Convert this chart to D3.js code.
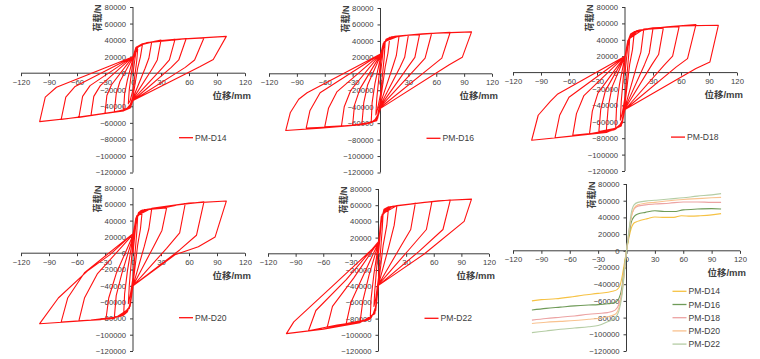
<!DOCTYPE html>
<html><head><meta charset="utf-8">
<script src="https://cdn.jsdelivr.net/npm/d3@7/dist/d3.min.js"></script>
<style>
body{margin:0;background:#fff;}
svg{display:block;}
text{font-family:"Liberation Sans",Arial,"Noto Sans CJK SC",sans-serif;fill:#404040;}
</style>
</head><body>
<svg id="chart" width="760" height="359"></svg>
<script>
// ---------- data ----------
const xTickValues = [-120, -90, -60, -30, 0, 30, 60, 90, 120];
const yTickValues = [80000, 60000, 40000, 20000, 0, -20000, -40000, -60000, -80000, -100000, -120000];
const xTitle = "位移/mm";
const yTitle = "荷载/N";
const specimenNames = ["PM-D14", "PM-D16", "PM-D18", "PM-D20", "PM-D22"];
const skeletonColors = ["#f6c244", "#6f9b58", "#eca3a3", "#f9c28f", "#b5cda5"];

const hystD14 = [[0,0],[3,25000],[5,29000],
[4,15000],[0,-20000],[-3,-33000],[-5,-37000],
[-4,-20000],[0,15000],[3,28000],[6,32000],[10,34000],
[8,20000],[5,6000],[0,-28000],[-3,-38000],[-6,-42000],[-10,-44000],
[-9,-25000],[-6,-8000],[0,18000],[3,29000],[8,34000],[20,37500],
[17,18000],[13,6000],[0,-30000],[-3,-40000],[-8,-44000],[-20,-46500],
[-18,-25000],[-14,-10000],[0,19000],[3,30000],[10,35500],[30,40000],
[26,16000],[21,6000],[0,-31000],[-3,-41000],[-10,-45000],[-30,-48500],
[-28,-27000],[-23,-14000],[0,20000],[3,31000],[10,35500],[25,39000],[45,41000],
[39,16000],[32,7000],[0,-32000],[-3,-41500],[-10,-45000],[-25,-47500],[-45,-51000],
[-42,-28000],[-35,-15000],[0,20000],[3,31000],[10,35500],[30,39500],[57,42000],
[49,16000],[41,7000],[0,-33000],[-3,-42000],[-10,-45500],[-30,-48500],[-58,-53500],
[-54,-28000],[-46,-15000],[0,20000],[4,32000],[15,37000],[40,40500],[76,42500],
[66,16000],[56,7000],[0,-33000],[-4,-42000],[-15,-46000],[-45,-51000],[-77,-56000],
[-72,-29000],[-62,-16000],[0,20000],[4,32000],[15,37000],[55,41500],[100,44500],
[86,16500],[72,8000],[0,-33000],[-4,-42500],[-20,-47000],[-60,-53500],[-100,-58500],
[-94,-29000],[-82,-17000],[0,20000]];

const hystD16 = [[0,0],[3,30000],[5,38000],
[4,20000],[0,-25000],[-3,-42000],[-5,-50000],
[-4,-30000],[0,15000],[3,33000],[6,42000],[10,44000],
[8,25000],[5,8000],[0,-33000],[-3,-50000],[-6,-56000],[-10,-59000],
[-9,-35000],[-6,-12000],[0,20000],[3,35000],[8,43000],[20,46000],
[17,22000],[13,8000],[0,-36000],[-3,-52000],[-8,-58000],[-20,-61000],
[-18,-35000],[-14,-14000],[0,22000],[3,36000],[10,44000],[30,47000],
[26,20000],[21,8000],[0,-38000],[-3,-53000],[-10,-59000],[-30,-62500],
[-28,-38000],[-22,-18000],[0,23000],[3,37000],[10,44500],[25,46500],[42,47500],
[37,20000],[30,9000],[0,-39000],[-3,-54000],[-10,-59500],[-25,-62000],[-42,-63500],
[-39,-40000],[-32,-20000],[0,24000],[4,38000],[12,45000],[30,47000],[55,49000],
[48,19000],[40,9000],[0,-40000],[-4,-55000],[-12,-60000],[-35,-63000],[-60,-64500],
[-56,-42000],[-47,-22000],[0,24000],[4,38500],[15,45500],[45,48500],[75,50500],
[66,19000],[55,9000],[0,-41000],[-4,-56000],[-15,-61000],[-50,-64500],[-80,-66000],
[-76,-45000],[-65,-23000],[0,24000],[4,39000],[20,46000],[60,49500],[98,51000],
[88,20000],[74,11000],[0,-42000],[-4,-57000],[-20,-62000],[-65,-66000],[-102,-69000],
[-97,-47000],[-88,-31000],[-79,-23000],[0,24000]];

const hystD18 = [[0,0],[3,32000],[5,42000],
[4,22000],[0,-30000],[-3,-50000],[-5,-58000],
[-4,-35000],[0,18000],[3,38000],[6,47000],[10,50000],
[8,28000],[5,10000],[0,-38000],[-3,-58000],[-6,-65000],[-10,-68000],
[-9,-40000],[-6,-15000],[0,20000],[3,38000],[8,48000],[20,52000],
[17,25000],[13,10000],[0,-42000],[-3,-60000],[-8,-67000],[-20,-71000],
[-18,-42000],[-14,-18000],[0,20000],[3,39000],[10,50000],[30,54000],
[26,24000],[21,10000],[0,-43000],[-3,-61000],[-10,-68000],[-28,-72000],
[-26,-45000],[-21,-22000],[0,20000],[3,39000],[10,50000],[25,53000],[41,54000],
[36,22000],[29,10000],[0,-44000],[-3,-62000],[-10,-69000],[-25,-72000],[-38,-74500],
[-35,-47000],[-29,-25000],[0,20000],[4,40000],[12,51000],[30,54500],[58,56000],
[51,20000],[42,9000],[0,-45000],[-4,-63000],[-12,-70000],[-35,-74000],[-56,-76500],
[-52,-50000],[-44,-28000],[0,20000],[4,40500],[15,52000],[45,56000],[76,58500],
[67,17000],[55,7000],[0,-45000],[-4,-64000],[-15,-71000],[-45,-76000],[-75,-79500],
[-70,-52000],[-60,-30000],[0,20000],[4,41000],[20,53000],[60,57000],[100,57700],
[91,13000],[76,5000],[0,-45000],[-4,-65000],[-20,-73000],[-60,-78000],[-100,-82500],
[-93,-52000],[-80,-35000],[-72,-26000],[0,20000]];

const hystD20 = [[0,0],[3,35000],[5,45000],
[4,25000],[0,-30000],[-3,-52000],[-5,-62000],
[-4,-40000],[0,15000],[3,40000],[6,50000],[10,53000],
[8,30000],[5,10000],[0,-38000],[-3,-62000],[-6,-72000],[-10,-76000],
[-9,-50000],[-6,-22000],[0,20000],[3,42000],[8,52000],[20,54000],
[17,30000],[12,8000],[0,-40000],[-3,-64000],[-8,-74000],[-20,-79000],
[-18,-52000],[-12,-25000],[0,20000],[3,43000],[10,53000],[36,55500],
[31,28000],[22,8000],[0,-40000],[-3,-65000],[-10,-76000],[-29,-81000],
[-26,-55000],[-18,-25000],[0,22000],[4,44000],[12,53500],[35,56000],[56,61000],
[50,25000],[36,6000],[0,-40000],[-4,-66000],[-12,-77000],[-35,-81500],[-58,-83000],
[-52,-55000],[-38,-25000],[0,23000],[4,45000],[15,54000],[45,59000],[76,63000],
[68,22000],[50,4000],[0,-40000],[-4,-67000],[-15,-78000],[-45,-82000],[-77,-84500],
[-70,-55000],[-52,-24000],[0,24000],[4,46000],[20,55000],[60,61500],[100,64000],
[88,20000],[70,8000],[45,-2000],[0,-40000],[-4,-68000],[-20,-80000],[-60,-83500],[-100,-86500],
[-80,-55000],[-49,-22000],[-25,-2000],[0,24000]];

const hystD22 = [[0,0],[3,38000],[5,50000],
[4,30000],[0,-30000],[-3,-55000],[-5,-65000],
[-4,-45000],[0,10000],[3,42000],[6,55000],[11,58000],
[9,35000],[5,10000],[0,-38000],[-3,-65000],[-6,-75000],[-9,-80000],
[-8,-55000],[-5,-25000],[0,12000],[3,45000],[8,56000],[20,59500],
[17,35000],[11,8000],[0,-38000],[-3,-68000],[-8,-79000],[-20,-84000],
[-17,-58000],[-10,-25000],[0,13000],[3,46000],[10,57500],[40,62500],
[35,30000],[22,5000],[0,-38000],[-3,-70000],[-10,-81000],[-35,-86000],
[-30,-60000],[-17,-28000],[0,14000],[4,47000],[12,58000],[35,61500],[58,64500],
[52,30000],[33,5000],[0,-38000],[-4,-72000],[-12,-82000],[-35,-86500],[-56,-92000],
[-50,-65000],[-27,-30000],[0,15000],[4,48000],[15,58500],[50,63500],[78,66500],
[70,30000],[44,3000],[0,-39000],[-4,-73000],[-15,-83000],[-45,-88000],[-76,-95000],
[-68,-70000],[-35,-32000],[0,15000],[4,49000],[20,59500],[65,65500],[101,67500],
[93,40000],[50,0],[0,-39000],[-4,-74000],[-20,-85000],[-60,-93000],[-100,-98500],
[-92,-84000],[-50,-40000],[0,13000]];

const skelD14 = [[-100,-60000],[-90,-58500],[-75,-57500],[-60,-55500],[-45,-53000],[-30,-51000],[-15,-48500],[-10,-46500],[-7,-42000],[-5,-33000],[-3,-20000],[0,0],[3,18000],[5,27000],[7,32000],[10,34500],[15,36500],[22,38500],[30,40500],[40,40000],[50,40000],[58,42000],[68,41500],[78,42000],[90,43000],[100,44500]];
const skelD16 = [[-100,-71000],[-85,-69000],[-70,-67500],[-55,-66000],[-40,-65000],[-30,-64500],[-20,-63500],[-12,-62000],[-8,-57000],[-5,-45000],[-3,-28000],[0,0],[3,22000],[5,34000],[8,41000],[12,44000],[20,46000],[30,48000],[40,47000],[50,47000],[60,49000],[75,50000],[90,50500],[100,50000]];
const skelD18 = [[-100,-83000],[-85,-81000],[-70,-79500],[-55,-78000],[-40,-76000],[-30,-75000],[-20,-74000],[-12,-71000],[-8,-64000],[-5,-50000],[-3,-32000],[0,0],[3,26000],[5,40000],[8,50000],[12,53500],[20,55000],[30,56000],[45,57000],[60,58500],[75,58500],[90,58000],[100,58000]];
const skelD20 = [[-100,-87000],[-85,-85500],[-70,-84500],[-55,-83500],[-40,-82000],[-30,-81000],[-20,-79000],[-12,-76000],[-8,-68000],[-5,-52000],[-3,-33000],[0,0],[3,26000],[5,40000],[8,51000],[12,55000],[20,57000],[30,58000],[45,60000],[60,61500],[75,62500],[90,63500],[100,64000]];
const skelD22 = [[-100,-98000],[-85,-96000],[-70,-94000],[-55,-92500],[-40,-91000],[-30,-89500],[-20,-85000],[-12,-80000],[-8,-72000],[-5,-55000],[-3,-35000],[0,0],[3,28000],[5,45000],[8,55000],[12,58000],[20,59500],[30,60500],[45,62000],[60,63500],[75,65500],[90,67000],[100,68500]];

const hysteresisSeries = [hystD14, hystD16, hystD18, hystD20, hystD22];
const skeletonSeries = [skelD14, skelD16, skelD18, skelD20, skelD22];

// ---------- layout ----------
const panels = [
  {x0:21,  x1:245, yTop:7,   yBot:172.5},
  {x0:269, x1:492, yTop:8,   yBot:172.5},
  {x0:513, x1:737, yTop:7,   yBot:171},
  {x0:21,  x1:245, yTop:188, yBot:351},
  {x0:268, x1:489, yTop:189, yBot:351},
  {x0:513, x1:740, yTop:184, yBot:351}
];

const svg = d3.select("#chart");
svg.append("rect").attr("width",760).attr("height",359).attr("fill","#fff");

function drawAxes(g, x, y) {
  const x0 = x(0), y0 = y(0);
  const axisColor = "#3a3a3a";
  const ya = g.append("g").attr("transform", `translate(${x0},0)`)
    .call(d3.axisLeft(y).tickValues(yTickValues).tickSize(3).tickPadding(4).tickFormat(d3.format("d")));
  ya.select(".domain").attr("stroke", axisColor).attr("d", `M0,${y(80000)}V${y(-120000)}`);
  ya.selectAll(".tick line").attr("stroke", axisColor);
  ya.selectAll(".tick text").attr("font-size", 7.7).attr("fill", "#404040")
    .attr("font-family", '"Liberation Sans",Arial,sans-serif');
  const xa = g.append("g").attr("transform", `translate(0,${y0})`)
    .call(d3.axisBottom(x).tickValues(xTickValues).tickSize(3).tickPadding(3).tickFormat(d3.format("d")));
  xa.select(".domain").attr("stroke", axisColor).attr("d", `M${x(-120)},0H${x(120)}`);
  xa.selectAll(".tick line").attr("stroke", axisColor);
  xa.selectAll(".tick text").attr("font-size", 7.7).attr("fill", "#404040")
    .attr("font-family", '"Liberation Sans",Arial,sans-serif');
  g.append("text").attr("x", x(120) + 6).attr("y", y0 + 25.5)
    .attr("text-anchor", "end").attr("font-size", 9.5).attr("font-weight", "bold")
    .attr("font-family", '"Noto Sans CJK SC","Liberation Sans",sans-serif')
    .text(xTitle);
  g.append("text").attr("transform", `translate(${x0 - 32},${y(80000) + 11}) rotate(-90)`)
    .attr("text-anchor", "middle").attr("font-size", 9).attr("font-weight", "bold")
    .attr("font-family", '"Noto Sans CJK SC","Liberation Sans",sans-serif')
    .text(yTitle);
}

panels.forEach((p, i) => {
  const x = d3.scaleLinear().domain([-120, 120]).range([p.x0, p.x1]);
  const y = d3.scaleLinear().domain([-120000, 80000]).range([p.yBot, p.yTop]);
  const g = svg.append("g");
  const line = d3.line().x(d => x(d[0])).y(d => y(d[1]));
  drawAxes(g, x, y);
  if (i < 5) {
    g.append("path").datum(hysteresisSeries[i]).attr("d", line)
      .attr("fill", "none").attr("stroke", "#ff1010").attr("stroke-width", 1.1)
      .attr("stroke-linejoin", "round");
    const lx = x(0) + 46, ly = y(0) + 64.5;
    g.append("line").attr("x1", lx).attr("x2", lx + 14).attr("y1", ly).attr("y2", ly)
      .attr("stroke", "#ff1010").attr("stroke-width", 1.3);
    g.append("text").attr("x", lx + 16).attr("y", ly + 3).attr("font-size", 8.6).text(specimenNames[i]);
  } else {
    const curve = d3.line().x(d => x(d[0])).y(d => y(d[1])).curve(d3.curveMonotoneX);
    skeletonSeries.forEach((s, k) => {
      g.append("path").datum(s).attr("d", curve)
        .attr("fill", "none").attr("stroke", skeletonColors[k]).attr("stroke-width", 1.1);
    });
    specimenNames.forEach((n, k) => {
      const lx = x(0) + 46, ly = y(0) + 40.5 + k * 13.2;
      g.append("line").attr("x1", lx).attr("x2", lx + 14).attr("y1", ly).attr("y2", ly)
        .attr("stroke", skeletonColors[k]).attr("stroke-width", 1.3);
      g.append("text").attr("x", lx + 16).attr("y", ly + 3).attr("font-size", 8.6).text(n);
    });
  }
});
</script>
</body></html>
